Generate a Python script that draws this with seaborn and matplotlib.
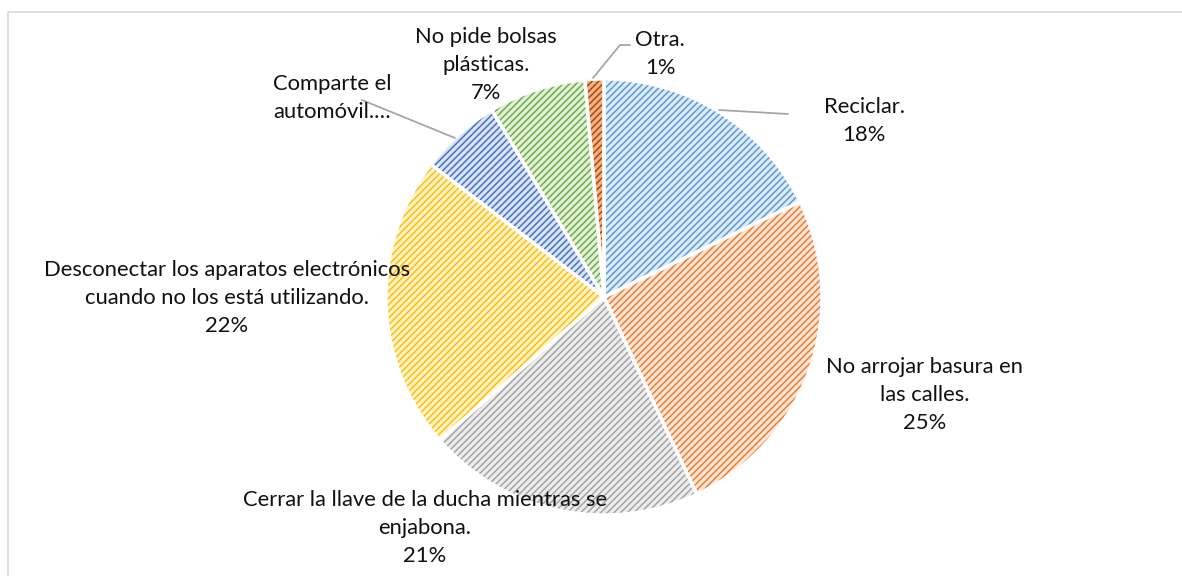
import matplotlib.pyplot as plt
import seaborn as sns
from matplotlib.patches import Rectangle

# datos del gráfico de pastel
categorias = ["Reciclar.", "No arrojar basura en\nlas calles.",
              "Cerrar la llave de la ducha mientras se\nenjabona.",
              "Desconectar los aparatos electrónicos\ncuando no los está utilizando.",
              "Comparte el\nautomóvil.…", "No pide bolsas\nplásticas.", "Otra."]
porcentajes = [17.8, 25.2, 20.6, 21.8, 6.0, 7.2, 1.4]
mostrar_pct = [True, True, True, True, False, True, True]

sns.set_theme(style="white")
plt.rcParams['font.family'] = ['Lato', 'DejaVu Sans']

# colores del tema de Office (línea de trama y fondo claro)
colores = sns.color_palette(["#5B9BD5", "#ED7D31", "#A5A5A5", "#FFC000",
                             "#4472C4", "#70AD47", "#A9490E"])
fondos = sns.color_palette(["#DEEBF7", "#FBE5D6", "#EDEDED", "#FFF2CC",
                            "#DAE3F3", "#E2F0D9", "#F4B183"])
plt.rcParams['hatch.linewidth'] = 1.1

W, H = 1182, 576
fig = plt.figure(figsize=(W / 100, H / 100), dpi=100)
ax = fig.add_axes([0, 0, 1, 1])

def py(y):
    return H - y

centro = (604, py(297))
radio = 218

# relleno con trama diagonal
cunas, _ = ax.pie(porcentajes, startangle=90, counterclock=False,
                  center=centro, radius=radio, colors=fondos,
                  wedgeprops=dict(linewidth=0))
for c, col in zip(cunas, colores):
    c.set_hatch('/////')
    c.set_edgecolor(col)
    c.set_linewidth(0)

# bordes blancos entre porciones
ax.pie(porcentajes, startangle=90, counterclock=False, center=centro,
       radius=radio, colors=['none'] * len(porcentajes),
       wedgeprops=dict(linewidth=2.4, edgecolor='white', fill=False))

ax.set_xlim(0, W)
ax.set_ylim(0, H)
ax.set_aspect('equal')
ax.axis('off')

# etiquetas
pos_etiquetas = [(864, 121), (925, 395), (425, 528), (227, 298),
                 (332, 98), (486, 65), (660, 54)]
for cat, pct, ver, (x, y) in zip(categorias, porcentajes, mostrar_pct, pos_etiquetas):
    txt = cat + ("\n%d%%" % round(pct) if ver else "")
    ax.text(x, py(y), txt, ha='center', va='center', fontsize=15.8,
            color='#111111', linespacing=1.5, multialignment='center')

# líneas guía
gris = '#A6A6A6'
ax.plot([719, 788], [py(110), py(114)], color=gris, lw=1.3)
ax.plot([455, 362], [py(138), py(100)], color=gris, lw=1.3)
ax.plot([593, 620, 630], [py(78), py(45), py(45)], color=gris, lw=1.3)

# marco del área del gráfico
fig.patches.append(Rectangle((8 / W, -0.1), 1.2, 1.1 - 12.5 / H,
                             transform=fig.transFigure, fill=False,
                             edgecolor='#D9D9D9', lw=1.2))

fig.savefig("out.png", dpi=100)
